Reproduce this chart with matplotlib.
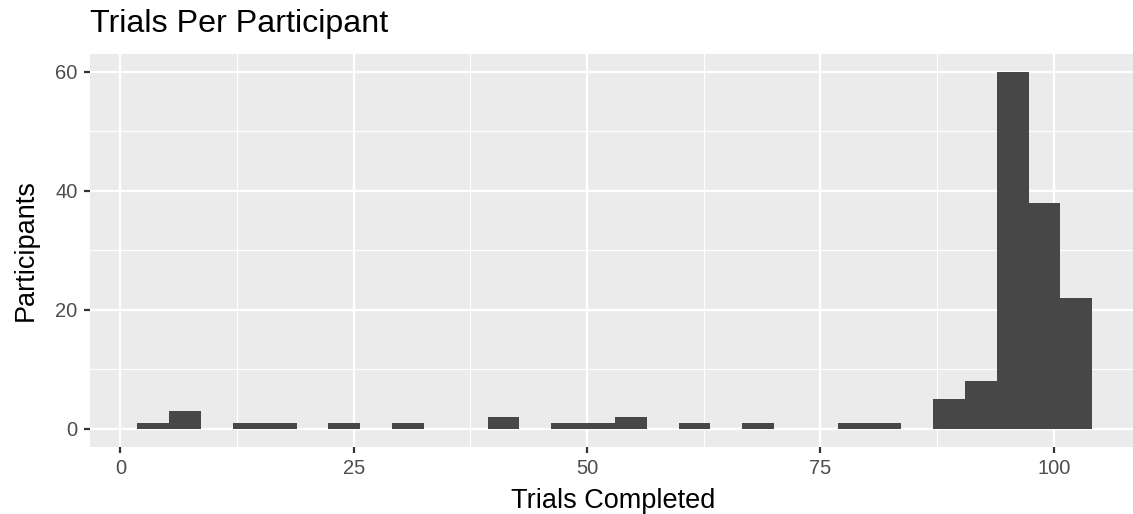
import numpy as np
import matplotlib
matplotlib.use("Agg")
import matplotlib.pyplot as plt

# ---- data ----
bin_start = 1.83
bin_width = 3.41
counts = [1, 3, 0, 1, 1, 0, 1, 0, 1, 0,
          0, 2, 0, 1, 1, 2, 0, 1, 0, 1,
          0, 0, 1, 1, 0, 5, 8, 60, 38, 22]
x_ticks = [0, 25, 50, 75, 100]
y_ticks = [0, 20, 40, 60]
title = "Trials Per Participant"
x_label = "Trials Completed"
y_label = "Participants"

plt.rcParams['font.family'] = ['Liberation Sans', 'DejaVu Sans']

W, H = 1133, 514
fig = plt.figure(figsize=(W / 100, H / 100), dpi=100)

# panel geometry in pixels
xmin, xmax = -3.3, 109.2
ymin, ymax = -3.0, 63.0
px_per_x = 9.333
left_px = 120.4 + xmin * px_per_x
width_px = (xmax - xmin) * px_per_x
top_px, bottom_px = 54.0, 446.7
ax = fig.add_axes([left_px / W, 1 - bottom_px / H, width_px / W, (bottom_px - top_px) / H])

ax.set_facecolor('#EBEBEB')
for s in ax.spines.values():
    s.set_visible(False)

edges = bin_start + bin_width * np.arange(len(counts) + 1)
ax.bar(edges[:-1], counts, width=bin_width, align='edge', color='#474747',
       edgecolor='none', zorder=3)

ax.set_xlim(xmin, xmax)
ax.set_ylim(ymin, ymax)
ax.set_xticks(x_ticks)
ax.set_yticks(y_ticks)
ax.set_xticks([12.5, 37.5, 62.5, 87.5], minor=True)
ax.set_yticks([10, 30, 50], minor=True)
ax.grid(True, which='major', color='white', linewidth=1.7, zorder=1)
ax.grid(True, which='minor', color='white', linewidth=0.85, zorder=1)
ax.set_axisbelow(True)

ax.tick_params(which='major', length=4.3, width=1.6, color='#333333',
               labelsize=14.5, labelcolor='#4D4D4D', pad=4.5)
ax.tick_params(which='minor', length=0)

center_x_px = (left_px + left_px + width_px) / 2
fig.text(613.5 / W, 1 - 508 / H, x_label, fontsize=19.5, color='black',
         ha='center', va='baseline')
fig.text(25.5 / W, 1 - 250 / H, y_label, fontsize=19.5, color='black',
         ha='center', va='center', rotation=90)

fig.text(90 / W, 1 - 32 / H, title, fontsize=23.2, color='black',
         ha='left', va='baseline')

fig.savefig('out.png', dpi=100)
